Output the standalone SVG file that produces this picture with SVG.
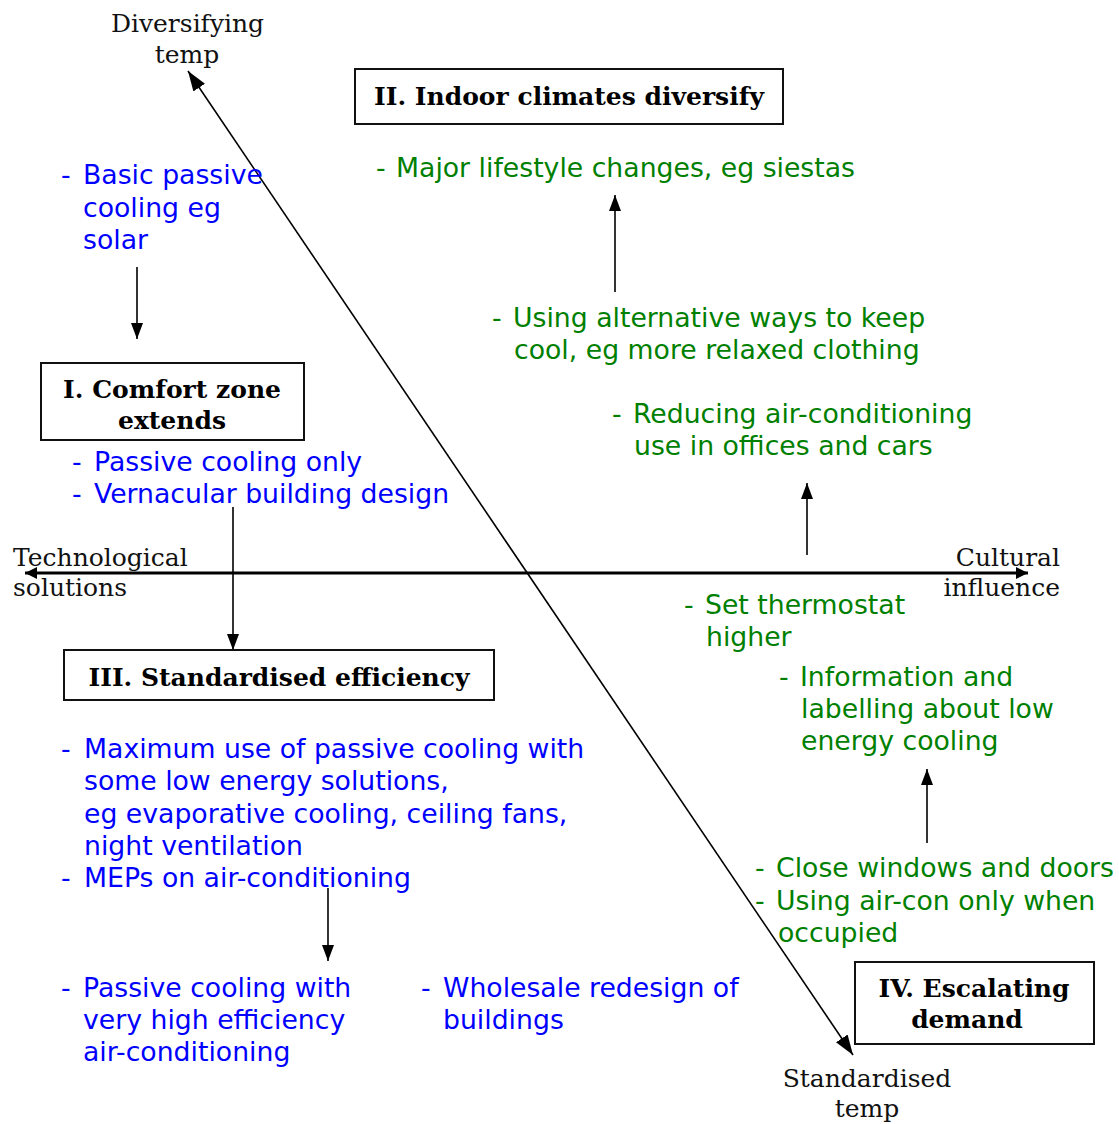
<svg xmlns="http://www.w3.org/2000/svg" width="1119" height="1124" viewBox="0 0 1119 1124">
<defs>
<style>
.lbl{font-family:"DejaVu Serif","Liberation Serif",serif;font-size:25px;fill:#111}
.ttl{font-family:"DejaVu Serif","Liberation Serif",serif;font-size:25px;font-weight:bold;fill:#000}
.box{fill:#fff;stroke:#111;stroke-width:2}
.blue{font-family:"DejaVu Sans",Verdana,sans-serif;font-size:26.7px;fill:#0000ff}
.green{font-family:"DejaVu Sans",Verdana,sans-serif;font-size:26.7px;fill:#008000}
.ln{stroke:#000;stroke-width:1.6;fill:none}
.axis{stroke:#000;stroke-width:3;fill:none}
</style>
<marker id="ah" markerUnits="userSpaceOnUse" markerWidth="16" markerHeight="12" refX="16" refY="6" viewBox="0 0 16 12" orient="auto-start-reverse">
<path d="M0,0 L16,6 L0,12 z" fill="#000"/>
</marker>
<marker id="ahd" markerUnits="userSpaceOnUse" markerWidth="20" markerHeight="14" refX="20" refY="7" viewBox="0 0 20 14" orient="auto-start-reverse">
<path d="M0,0 L20,7 L0,14 z" fill="#000"/>
</marker>
<marker id="aha" markerUnits="userSpaceOnUse" markerWidth="12" markerHeight="12" refX="12" refY="6" viewBox="0 0 12 12" orient="auto-start-reverse">
<path d="M0,0 L12,6 L0,12 z" fill="#000"/>
</marker>
</defs>

<g id="connectors">
<line class="axis" x1="25" y1="573" x2="1028" y2="573" marker-start="url(#aha)" marker-end="url(#aha)"/>
<line class="ln" x1="188" y1="71" x2="853" y2="1055" marker-start="url(#ahd)" marker-end="url(#ahd)"/>
<line class="ln" x1="137" y1="267" x2="137" y2="339" marker-end="url(#ah)"/>
<line class="ln" x1="233" y1="507" x2="233" y2="650" marker-end="url(#ah)"/>
<line class="ln" x1="615" y1="292" x2="615" y2="195" marker-end="url(#ah)"/>
<line class="ln" x1="807" y1="555" x2="807" y2="483" marker-end="url(#ah)"/>
<line class="ln" x1="328" y1="888" x2="328" y2="961" marker-end="url(#ah)"/>
<line class="ln" x1="927" y1="843" x2="927" y2="769" marker-end="url(#ah)"/>
</g>

<g id="axis-labels">
<text class="lbl" x="187.5" y="32" text-anchor="middle">Diversifying</text>
<text class="lbl" x="187" y="63" text-anchor="middle">temp</text>
<text class="lbl" x="13" y="566">Technological</text>
<text class="lbl" x="13" y="596">solutions</text>
<text class="lbl" x="1060" y="566" text-anchor="end">Cultural</text>
<text class="lbl" x="1060" y="596" text-anchor="end">influence</text>
<text class="lbl" x="867" y="1087" text-anchor="middle">Standardised</text>
<text class="lbl" x="867" y="1117" text-anchor="middle">temp</text>
</g>

<g id="node-I">
<rect class="box" x="41" y="363" width="263" height="77"/>
<text class="ttl" x="172" y="398" text-anchor="middle">I. Comfort zone</text>
<text class="ttl" x="172" y="429" text-anchor="middle">extends</text>
</g>
<g id="node-II">
<rect class="box" x="355" y="69" width="428" height="55"/>
<text class="ttl" x="569" y="105" text-anchor="middle">II. Indoor climates diversify</text>
</g>
<g id="node-III">
<rect class="box" x="64" y="650" width="430" height="50"/>
<text class="ttl" x="279" y="686" text-anchor="middle">III. Standardised efficiency</text>
</g>
<g id="node-IV">
<rect class="box" x="855" y="962" width="239" height="82"/>
<text class="ttl" x="974" y="997" text-anchor="middle">IV. Escalating</text>
<text class="ttl" x="967" y="1028" text-anchor="middle">demand</text>
</g>

<g id="blue-basic">
<text class="blue" x="61" y="184">-<tspan x="83">Basic passive</tspan></text>
<text class="blue" x="83" y="217">cooling eg</text>
<text class="blue" x="83" y="249">solar</text>
</g>
<g id="blue-passive">
<text class="blue" x="72" y="471">-<tspan x="94">Passive cooling only</tspan></text>
<text class="blue" x="72" y="503">-<tspan x="94">Vernacular building design</tspan></text>
</g>
<g id="blue-max">
<text class="blue" x="61" y="758">-<tspan x="84">Maximum use of passive cooling with</tspan></text>
<text class="blue" x="84" y="790">some low energy solutions,</text>
<text class="blue" x="84" y="823">eg evaporative cooling, ceiling fans,</text>
<text class="blue" x="84" y="855">night ventilation</text>
<text class="blue" x="61" y="887">-<tspan x="84">MEPs on air-conditioning</tspan></text>
</g>
<g id="blue-veryhigh">
<text class="blue" x="61" y="997">-<tspan x="83">Passive cooling with</tspan></text>
<text class="blue" x="83" y="1029">very high efficiency</text>
<text class="blue" x="83" y="1061">air-conditioning</text>
</g>
<g id="blue-wholesale">
<text class="blue" x="421" y="997">-<tspan x="443">Wholesale redesign of</tspan></text>
<text class="blue" x="443" y="1029">buildings</text>
</g>

<g id="green-major">
<text class="green" x="376" y="177">-<tspan x="396">Major lifestyle changes, eg siestas</tspan></text>
</g>
<g id="green-alt">
<text class="green" x="492" y="327">-<tspan x="513">Using alternative ways to keep</tspan></text>
<text class="green" x="514" y="359">cool, eg more relaxed clothing</text>
</g>
<g id="green-reduce">
<text class="green" x="612" y="423">-<tspan x="633">Reducing air-conditioning</tspan></text>
<text class="green" x="634" y="455">use in offices and cars</text>
</g>
<g id="green-thermo">
<text class="green" x="684" y="614">-<tspan x="705">Set thermostat</tspan></text>
<text class="green" x="706" y="646">higher</text>
</g>
<g id="green-info">
<text class="green" x="779" y="686">-<tspan x="800">Information and</tspan></text>
<text class="green" x="801" y="718">labelling about low</text>
<text class="green" x="801" y="750">energy cooling</text>
</g>
<g id="green-close">
<text class="green" x="755" y="877">-<tspan x="776">Close windows and doors</tspan></text>
<text class="green" x="755" y="910">-<tspan x="776">Using air-con only when</tspan></text>
<text class="green" x="778" y="942">occupied</text>
</g>
</svg>
